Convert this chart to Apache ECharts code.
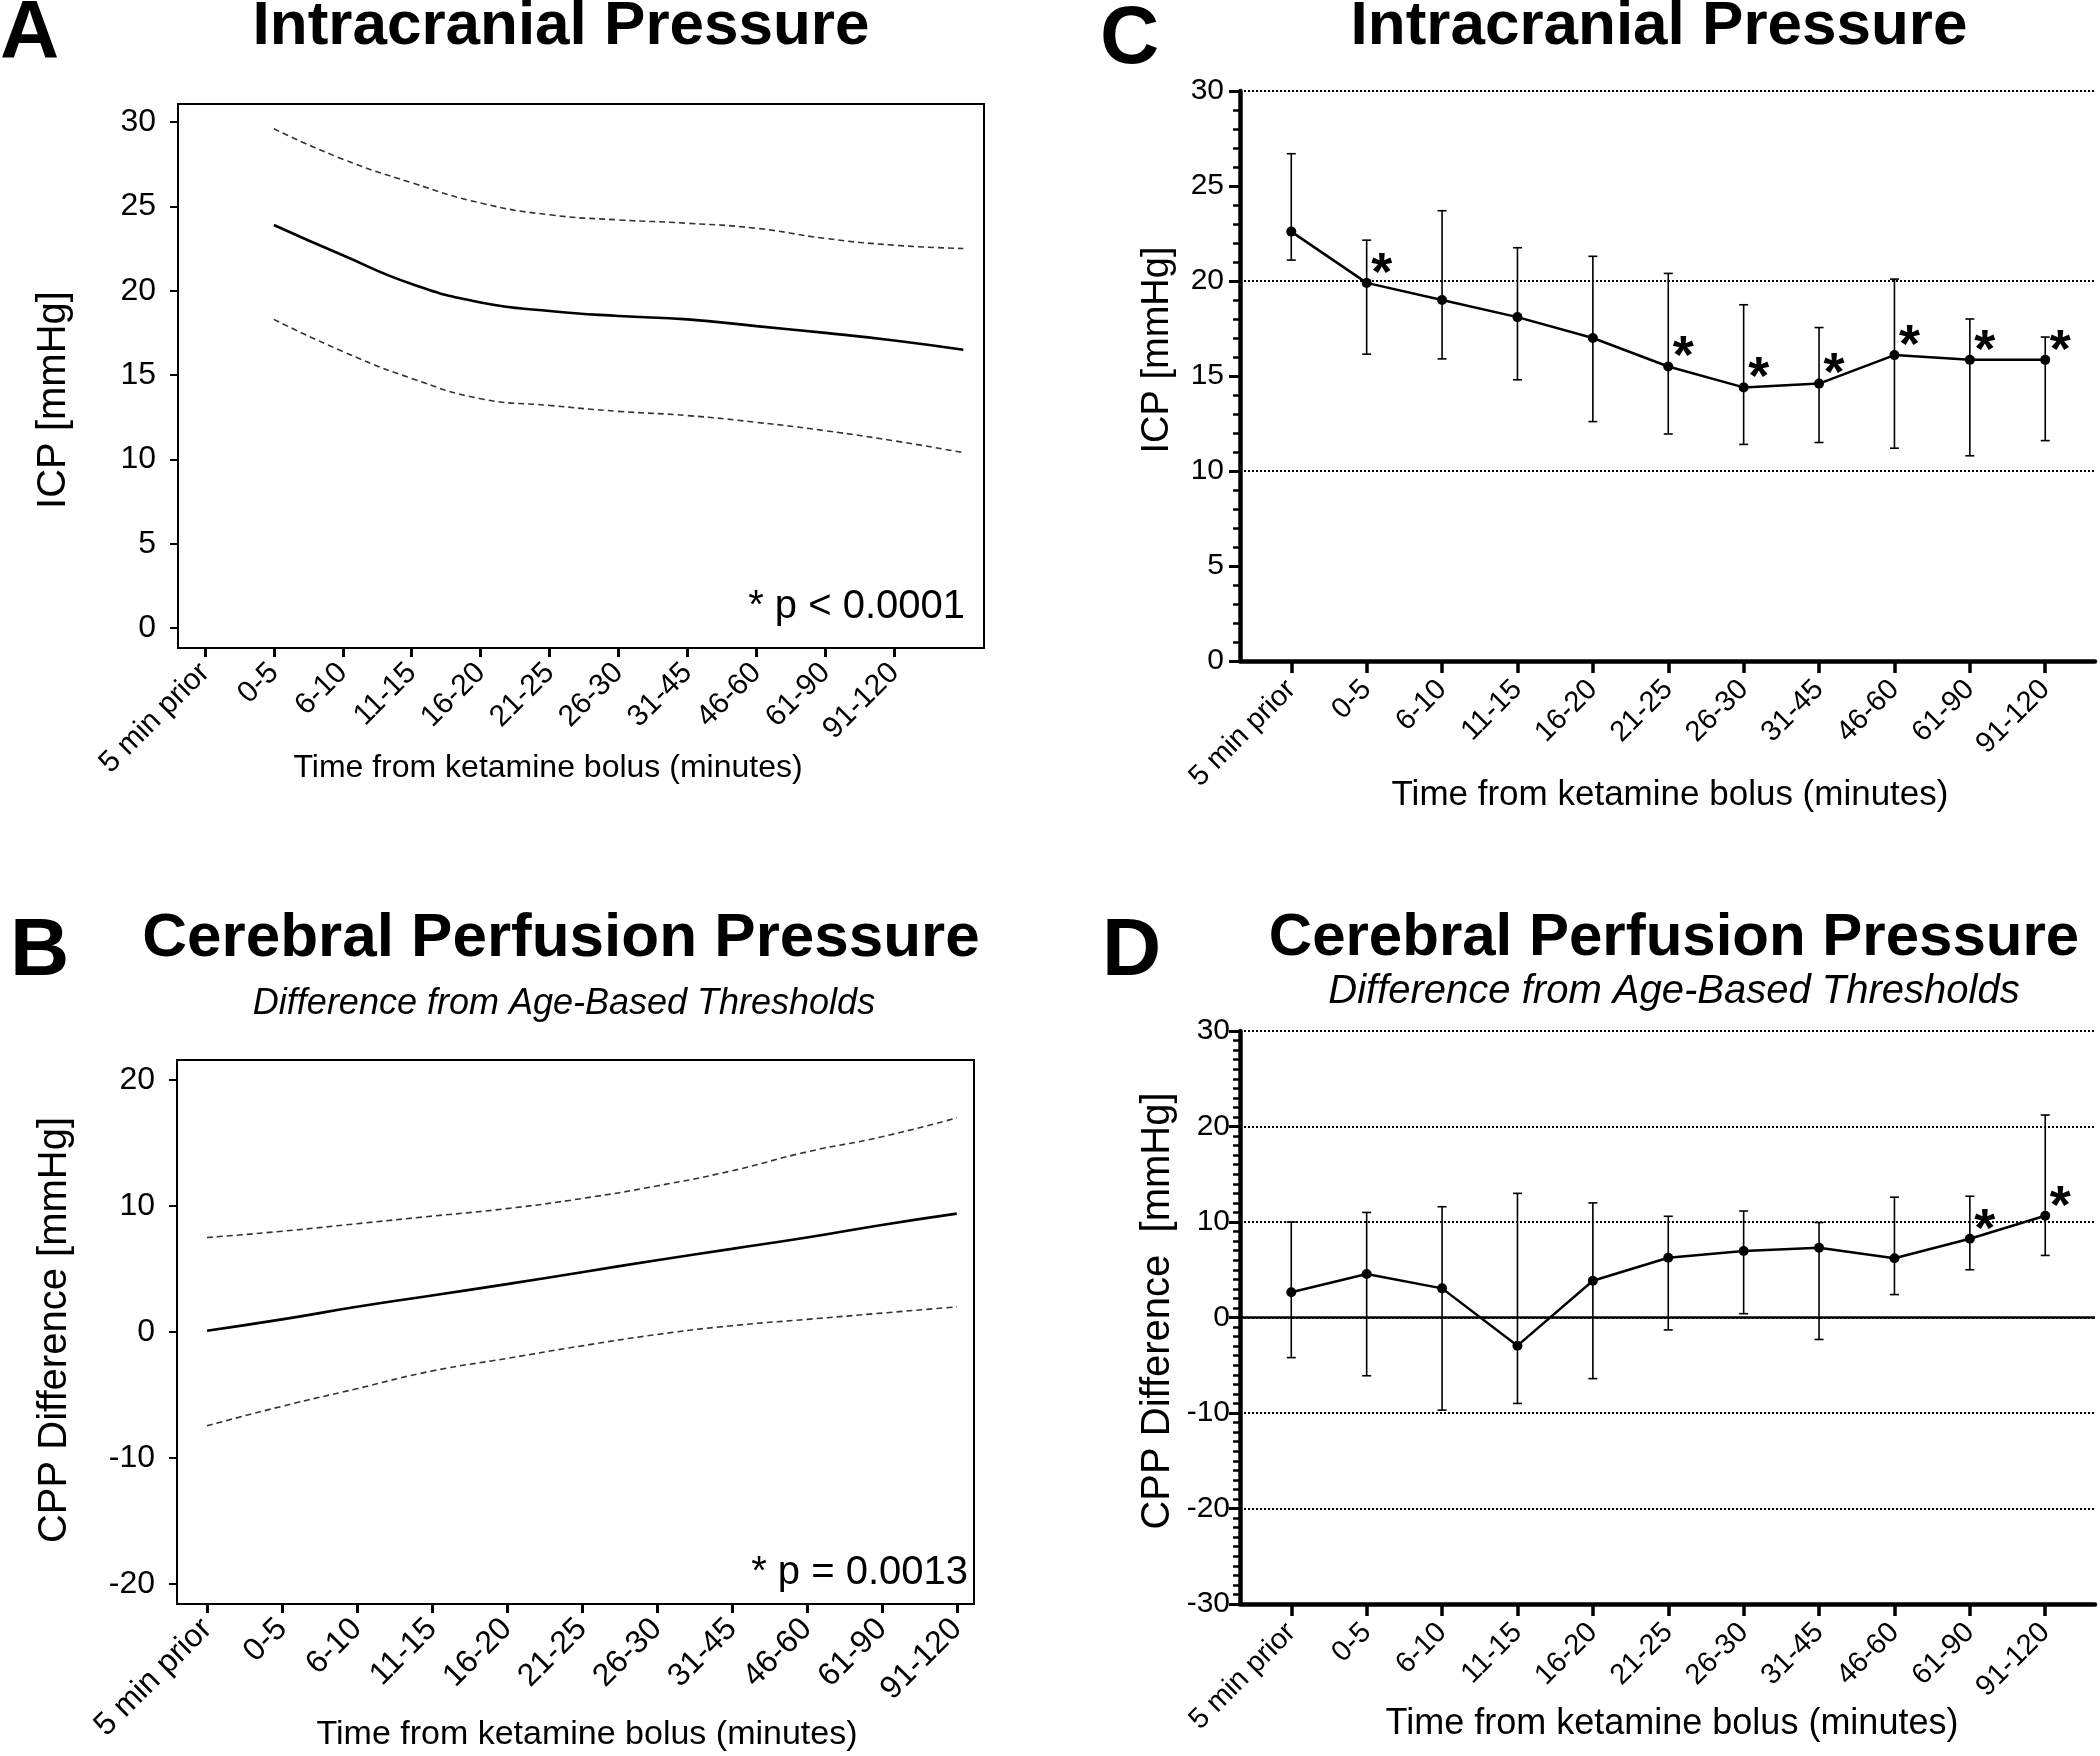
<!DOCTYPE html>
<html>
<head>
<meta charset="utf-8">
<title>Ketamine ICP / CPP</title>
<script src="https://cdn.jsdelivr.net/npm/echarts@6/dist/echarts.min.js"></script>
<style>
  html, body { margin: 0; padding: 0; background: #fff; }
  #main { width: 2100px; height: 1756px; }
</style>
</head>
<body>
<div id="main"></div>
<script>
// categories on the time axis
var cats = ['5 min prior', '0-5', '6-10', '11-15', '16-20', '21-25', '26-30', '31-45', '46-60', '61-90', '91-120'];
var catPos = [0, 1, 2, 3, 4, 5, 6, 7, 8, 9, 10];

// A: modelled ICP (fit + 95% band), drawn one category to the right as in the figure
var aPos   = [1, 2, 3, 4, 5, 6, 7, 8, 9, 10, 11];
var aFit   = [23.9, 22.1, 20.4, 19.3, 18.8, 18.5, 18.3, 17.9, 17.5, 17.05, 16.5];
var aUpper = [29.6, 27.8, 26.4, 25.2, 24.5, 24.2, 24.0, 23.7, 23.1, 22.7, 22.5];
var aLower = [18.3, 16.4, 14.8, 13.6, 13.2, 12.85, 12.6, 12.2, 11.7, 11.1, 10.4];
var aYTicks = [0, 5, 10, 15, 20, 25, 30];

// B: modelled CPP difference (fit + 95% band)
var bFit   = [0.1, 1.0, 2.0, 2.9, 3.8, 4.75, 5.7, 6.6, 7.5, 8.5, 9.4];
var bUpper = [7.5, 8.0, 8.6, 9.2, 9.8, 10.6, 11.6, 12.8, 14.3, 15.5, 17.0];
var bLower = [-7.45, -5.9, -4.5, -3.1, -2.1, -1.1, -0.2, 0.5, 1.0, 1.5, 2.0];
var bYTicks = [-20, -10, 0, 10, 20];

// C: observed ICP, mean with error bars
var cMean = [22.6, 19.9, 19.0, 18.1, 17.0, 15.5, 14.4, 14.6, 16.1, 15.85, 15.85];
var cHigh = [26.7, 22.15, 23.7, 21.75, 21.3, 20.4, 18.75, 17.55, 20.1, 18.0, 17.05];
var cLow  = [21.1, 16.15, 15.9, 14.8, 12.6, 11.95, 11.4, 11.5, 11.2, 10.8, 11.6];
var cSig  = [0, 1, 0, 0, 0, 1, 1, 1, 1, 1, 1];
var cGridLines = [10, 20, 30];

// D: observed CPP difference, mean with error bars
var dMean = [2.65, 4.55, 3.05, -2.95, 3.85, 6.25, 6.97, 7.3, 6.2, 8.25, 10.65];
var dHigh = [10.0, 11.0, 11.6, 13.0, 12.0, 10.6, 11.15, 9.95, 12.6, 12.7, 21.2];
var dLow  = [-4.2, -6.1, -9.7, -9.0, -6.4, -1.3, 0.4, -2.3, 2.4, 5.0, 6.5];
var dSig  = [0, 0, 0, 0, 0, 0, 0, 0, 0, 1, 1];
var dZero = [0];

var FONT = '"Liberation Sans", Arial, Helvetica, sans-serif';
var chart = echarts.init(document.getElementById('main'), null, { renderer: 'canvas' });

function pairs(xs, ys) {
  return ys.map(function (v, i) { return [xs[i], v]; });
}
function catLabel(v) { return cats[Math.round(v)]; }

function errBar(params, api) {
  var x = api.value(0);
  var lo = api.coord([x, api.value(1)]);
  var hi = api.coord([x, api.value(2)]);
  var w = 4.5;
  var st = { stroke: '#000', lineWidth: 1.6 };
  return {
    type: 'group',
    children: [
      { type: 'line', shape: { x1: lo[0], y1: lo[1], x2: hi[0], y2: hi[1] }, style: st },
      { type: 'line', shape: { x1: hi[0] - w, y1: hi[1], x2: hi[0] + w, y2: hi[1] }, style: st },
      { type: 'line', shape: { x1: lo[0] - w, y1: lo[1], x2: lo[0] + w, y2: lo[1] }, style: st }
    ]
  };
}
function star(params, api) {
  var p = api.coord([api.value(0), api.value(1)]);
  return {
    type: 'text',
    x: p[0] + 15, y: p[1] - 8,
    style: { text: '*', font: 'bold 54px ' + FONT, fill: '#000',
             textAlign: 'center', textVerticalAlign: 'middle', align: 'center', verticalAlign: 'middle' }
  };
}
function sigData(mean, sig) {
  var out = [];
  sig.forEach(function (s, i) { if (s) out.push([catPos[i], mean[i]]); });
  return out;
}

function boxX(idx, min, max, size) {
  return {
    gridIndex: idx, type: 'value', min: min, max: max,
    axisLine: { show: false, onZero: false },
    splitLine: { show: false },
    axisTick: { show: true, customValues: catPos, length: 9, lineStyle: { color: '#000', width: 3 } },
    axisLabel: { customValues: catPos, formatter: catLabel, rotate: 45, margin: 20,
                 fontSize: size, color: '#000', fontFamily: FONT }
  };
}
function boxY(idx, min, max, ticks) {
  return {
    gridIndex: idx, type: 'value', min: min, max: max,
    axisLine: { show: false, onZero: false },
    splitLine: { show: false },
    axisTick: { show: true, customValues: ticks, length: 8, lineStyle: { color: '#000', width: 2 } },
    axisLabel: { customValues: ticks, margin: 22, fontSize: 32, color: '#000', fontFamily: FONT }
  };
}
function prismX(idx) {
  return {
    gridIndex: idx, type: 'value', min: -0.68, max: 10.66,
    axisLine: { show: true, onZero: false, lineStyle: { color: '#000', width: 4.5 } },
    splitLine: { show: false },
    axisTick: { show: true, customValues: catPos, length: 12, lineStyle: { color: '#000', width: 3.5 } },
    axisLabel: { customValues: catPos, formatter: catLabel, rotate: 45, margin: 24,
                 fontSize: 29, color: '#000', fontFamily: FONT }
  };
}
function prismY(idx, min, max, interval, minor, grid, margin) {
  return {
    gridIndex: idx, type: 'value', min: min, max: max, interval: interval,
    axisLine: { show: true, onZero: false, lineStyle: { color: '#000', width: 4.5 } },
    axisTick: { show: true, length: 11, lineStyle: { color: '#000', width: 3 } },
    minorTick: { show: true, splitNumber: minor, length: 7, lineStyle: { color: '#000', width: 2.5 } },
    splitLine: { show: grid, lineStyle: { color: '#000', width: 2, type: 'dotted' } },
    axisLabel: { margin: margin, fontSize: 30, color: '#000', fontFamily: FONT }
  };
}

function txt(x, y, s, font, rot, align) {
  return {
    type: 'text', x: x, y: y, rotation: rot || 0, silent: true,
    style: { text: s, font: font, fill: '#000',
             textAlign: align || 'center', textVerticalAlign: 'middle',
             align: align || 'center', verticalAlign: 'middle' }
  };
}

var lineDash = { color: '#333', width: 1.6, type: [6, 4] };
var lineSolid = { color: '#000', width: 2.6 };

var option = {
  backgroundColor: '#fff',
  animation: false,
  grid: [
    { left: 178, top: 104, width: 806, height: 544, show: true, borderColor: '#000', borderWidth: 2 },
    { left: 177, top: 1060, width: 797, height: 544, show: true, borderColor: '#000', borderWidth: 2 },
    { left: 1240, top: 91, width: 855, height: 570 },
    { left: 1240, top: 1031, width: 855, height: 573 }
  ],
  xAxis: [
    boxX(0, -0.39, 11.3, 30),
    boxX(1, -0.4, 10.23, 32),
    prismX(2),
    prismX(3)
  ],
  yAxis: [
    boxY(0, -1.18, 31.07, aYTicks),
    boxY(1, -21.6, 21.6, bYTicks),
    prismY(2, 0, 30, 5, 5, false, 16),
    prismY(3, -30, 30, 10, 10, true, 10)
  ],
  graphic: [
    txt(0, 34, 'A', 'bold 82px ' + FONT, 0, 'left'),
    txt(561, 27, 'Intracranial Pressure', 'bold 62px ' + FONT),
    txt(54, 400, 'ICP [mmHg]', '40px ' + FONT, Math.PI / 2),
    txt(548, 768, 'Time from ketamine bolus (minutes)', '32px ' + FONT),
    txt(965, 607, '* p < 0.0001', '40px ' + FONT, 0, 'right'),

    txt(10, 952, 'B', 'bold 82px ' + FONT, 0, 'left'),
    txt(561, 939, 'Cerebral Perfusion Pressure', 'bold 62px ' + FONT),
    txt(564, 1004, 'Difference from Age-Based Thresholds', 'italic 36px ' + FONT),
    txt(55, 1330, 'CPP Difference [mmHg]', '40px ' + FONT, Math.PI / 2),
    txt(587, 1735, 'Time from ketamine bolus (minutes)', '34px ' + FONT),
    txt(968, 1573, '* p = 0.0013', '40px ' + FONT, 0, 'right'),

    txt(1100, 40, 'C', 'bold 82px ' + FONT, 0, 'left'),
    txt(1659, 27, 'Intracranial Pressure', 'bold 62px ' + FONT),
    txt(1158, 350, 'ICP [mmHg]', '38px ' + FONT, Math.PI / 2),
    txt(1670, 795, 'Time from ketamine bolus (minutes)', '35px ' + FONT),

    txt(1102, 952, 'D', 'bold 82px ' + FONT, 0, 'left'),
    txt(1674, 938, 'Cerebral Perfusion Pressure', 'bold 60px ' + FONT),
    txt(1674, 992, 'Difference from Age-Based Thresholds', 'italic 40px ' + FONT),
    txt(1158, 1311, 'CPP Difference  [mmHg]', '40px ' + FONT, Math.PI / 2),
    txt(1672, 1724, 'Time from ketamine bolus (minutes)', '36px ' + FONT)
  ],
  series: [
    // A
    { type: 'line', xAxisIndex: 0, yAxisIndex: 0, smooth: true, showSymbol: false, lineStyle: lineDash, data: pairs(aPos, aUpper) },
    { type: 'line', xAxisIndex: 0, yAxisIndex: 0, smooth: true, showSymbol: false, lineStyle: lineDash, data: pairs(aPos, aLower) },
    { type: 'line', xAxisIndex: 0, yAxisIndex: 0, smooth: true, showSymbol: false, lineStyle: lineSolid, data: pairs(aPos, aFit) },
    // B
    { type: 'line', xAxisIndex: 1, yAxisIndex: 1, smooth: true, showSymbol: false, lineStyle: lineDash, data: pairs(catPos, bUpper) },
    { type: 'line', xAxisIndex: 1, yAxisIndex: 1, smooth: true, showSymbol: false, lineStyle: lineDash, data: pairs(catPos, bLower) },
    { type: 'line', xAxisIndex: 1, yAxisIndex: 1, smooth: true, showSymbol: false, lineStyle: lineSolid, data: pairs(catPos, bFit) },
    // C
    { type: 'custom', xAxisIndex: 2, yAxisIndex: 2, renderItem: errBar, encode: { x: 0, y: [1, 2] },
      data: cMean.map(function (m, i) { return [catPos[i], cLow[i], cHigh[i]]; }) },
    { type: 'line', xAxisIndex: 2, yAxisIndex: 2, symbol: 'circle', symbolSize: 10,
      itemStyle: { color: '#000' }, lineStyle: { color: '#000', width: 2.5 }, z: 5,
      data: pairs(catPos, cMean),
      markLine: { silent: true, symbol: 'none', label: { show: false },
                  lineStyle: { color: '#000', width: 2, type: 'dotted' },
                  data: cGridLines.map(function (v) { return { yAxis: v }; }) } },
    { type: 'custom', xAxisIndex: 2, yAxisIndex: 2, renderItem: star, data: sigData(cMean, cSig), z: 6 },
    // D
    { type: 'custom', xAxisIndex: 3, yAxisIndex: 3, renderItem: errBar, encode: { x: 0, y: [1, 2] },
      data: dMean.map(function (m, i) { return [catPos[i], dLow[i], dHigh[i]]; }) },
    { type: 'line', xAxisIndex: 3, yAxisIndex: 3, symbol: 'circle', symbolSize: 10,
      itemStyle: { color: '#000' }, lineStyle: { color: '#000', width: 2.5 }, z: 5,
      data: pairs(catPos, dMean),
      markLine: { silent: true, symbol: 'none', label: { show: false },
                  lineStyle: { color: '#000', width: 2.6, type: 'solid' },
                  data: dZero.map(function (v) { return { yAxis: v }; }) } },
    { type: 'custom', xAxisIndex: 3, yAxisIndex: 3, renderItem: star, data: sigData(dMean, dSig), z: 6 }
  ]
};
chart.setOption(option);
</script>
</body>
</html>
